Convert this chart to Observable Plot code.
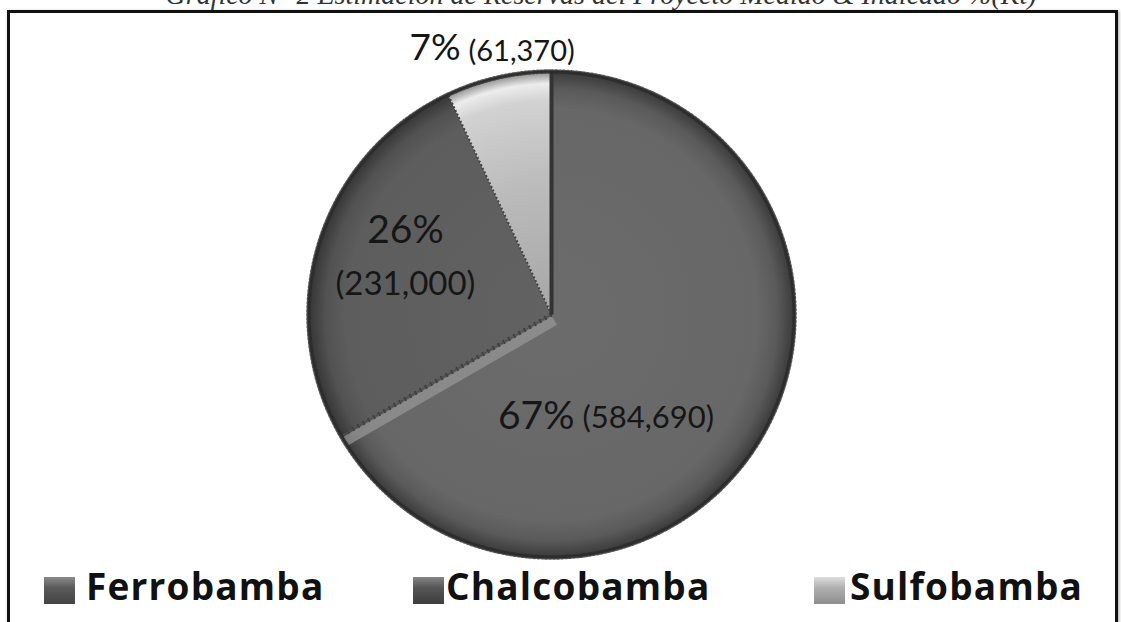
<!DOCTYPE html>
<html>
<head>
<meta charset="utf-8">
<script src="https://cdn.jsdelivr.net/npm/d3@7"></script>
<script src="https://cdn.jsdelivr.net/npm/@observablehq/plot@0.6"></script>
<style>
  html, body { margin: 0; padding: 0; background: #fff; }
  #wrap { position: relative; width: 1121px; height: 622px; overflow: hidden; background: #fff; }
  #frame { position: absolute; left: 7px; top: 10px; width: 1105px; height: 700px; border: 3px solid #111; box-shadow: 1px 1px 3px rgba(0,0,0,0.35); }
  #title { position: absolute; left: 601px; top: -19px; transform: translateX(-50%); white-space: nowrap;
           font-family: "Liberation Serif", "Times New Roman", serif; font-style: italic; font-size: 28px; line-height: 1; color: #333; }
  #chart { position: absolute; left: 0; top: 0; }
  .sw { position: absolute; width: 31px; height: 27px; top: 577px; }
  .lt { position: absolute; top: 567px; font-family: "Open Sans", sans-serif; font-weight: 700; font-size: 37px; line-height: 1; letter-spacing: 1.2px; color: #111; white-space: nowrap; }
</style>
</head>
<body>
<div id="wrap">
  <div id="frame"></div>
  <div id="title">Gráfico N° 2 Estimación de Reservas del Proyecto Medido &amp; Indicado %(Kt)</div>
  <div id="chart"></div>
</div>
<script>
// ---- data ----
const categories = ["Ferrobamba", "Chalcobamba", "Sulfobamba"];
const values = [584690, 231000, 61370];
const total = d3.sum(values);
const percentLabels = values.map(v => Math.round(v / total * 100) + "%");
const valueLabels = values.map(v => "(" + d3.format(",")(v) + ")");

// ---- styling / layout (not data) ----
const legendSwatch = [
  "linear-gradient(to bottom, #8a8a8a 0%, #5a5a5a 40%, #444 100%)",
  "linear-gradient(to bottom, #858585 0%, #555 40%, #3e3e3e 100%)",
  "linear-gradient(to bottom, #dedede 0%, #b0b0b0 40%, #8e8e8e 100%)"
];
const legendSwatchLeft = [44, 413, 814];
const legendTextLeft = [86, 446, 850];
// label placement: radius (in pie radii), angle shift from slice middle (deg), font sizes, arrangement
const labelLayout = [
  {r: 0.482, shift: 46.7, pctSize: 39, valSize: 31, mode: "inline"},
  {r: 0.63, shift: 0, pctSize: 39, valSize: 33, mode: "stack"},
  {r: 1.105, shift: -6.3, pctSize: 37, valSize: 29, mode: "inline"}
];

// ---- geometry from values ----
const rad = a => a * Math.PI / 180;
const polar = (r, deg) => ({x: r * Math.sin(rad(deg)), y: r * Math.cos(rad(deg))});
let acc = 0;
const slices = categories.map((c, i) => {
  const a0 = acc / total * 360;
  acc += values[i];
  const a1 = acc / total * 360;
  return {cat: c, i, a0, a1, mid: (a0 + a1) / 2};
});
function arcPoints(s) {
  const pts = [{x: 0, y: 0}];
  const n = Math.max(2, Math.ceil((s.a1 - s.a0) / 0.5));
  for (let k = 0; k <= n; k++) pts.push(polar(1, s.a0 + (s.a1 - s.a0) * k / n));
  pts.push({x: 0, y: 0});
  return pts;
}
const rim = d3.range(0, 721).map(k => polar(1, k / 2));

const sliceMarks = slices.map(s =>
  Plot.line(arcPoints(s), {x: "x", y: "y", fill: `url(#grad${s.i})`, stroke: "none", curve: "linear"})
);

const edge = (a, opts) => {
  const p = polar(1, a);
  return Plot.link([{x1: 0, y1: 0, x2: p.x, y2: p.y}], {x1: "x1", y1: "y1", x2: "x2", y2: "y2", ...opts});
};

const textMarks = [];
slices.forEach(s => {
  const L = labelLayout[s.i];
  const p = polar(L.r, s.mid + L.shift);
  const common = {x: "x", y: "y", fontFamily: "Lato, 'Open Sans', sans-serif", fill: "#161616"};
  if (L.mode === "inline") {
    textMarks.push(Plot.text([{...p, t: percentLabels[s.i]}], {...common, text: "t", fontSize: L.pctSize, textAnchor: "end", dx: -4, dy: -Math.round(0.32 * L.pctSize)}));
    textMarks.push(Plot.text([{...p, t: valueLabels[s.i]}], {...common, text: "t", fontSize: L.valSize, textAnchor: "start", dx: 4, dy: -Math.round(0.32 * L.valSize)}));
  } else {
    textMarks.push(Plot.text([{...p, t: percentLabels[s.i]}], {...common, text: "t", fontSize: L.pctSize, textAnchor: "middle", dy: -26 - Math.round(0.32 * L.pctSize)}));
    textMarks.push(Plot.text([{...p, t: valueLabels[s.i]}], {...common, text: "t", fontSize: L.valSize, textAnchor: "middle", dy: 27 - Math.round(0.32 * L.valSize)}));
  }
});

const chart = Plot.plot({
  width: 1121,
  height: 622,
  marginLeft: 308, marginRight: 327, marginTop: 71, marginBottom: 65,
  x: {domain: [-1, 1], axis: null},
  y: {domain: [-1, 1], axis: null},
  style: {background: "transparent", overflow: "visible"},
  marks: [
    ...sliceMarks,
    // Chalcobamba / Ferrobamba boundary: light bevel band + serrated edge
    edge(slices[0].a1, {stroke: "#999", strokeWidth: 10, strokeOpacity: 0.7, dx: 3, dy: 6}),
    edge(slices[0].a1, {stroke: "#3a3a3a", strokeWidth: 4, strokeDasharray: "2,4"}),
    edge(slices[0].a1, {stroke: "#4a4a4a", strokeWidth: 1.2}),
    // Sulfobamba / Chalcobamba boundary: dotted
    edge(slices[1].a1, {stroke: "#444", strokeWidth: 2, strokeDasharray: "2,2"}),
    // Ferrobamba / Sulfobamba boundary: dark line
    edge(0, {stroke: "#333", strokeWidth: 4}),
    // rim
    Plot.line(rim, {x: "x", y: "y", stroke: "#3a3a3a", strokeWidth: 2}),
    Plot.line(rim, {x: "x", y: "y", stroke: "#2a2a2a", strokeWidth: 4.5, strokeDasharray: "1.5,2.5", strokeOpacity: 0.8}),
    ...textMarks
  ]
});

// gradients in user space, centred on the pie through Plot's scales
const sx = chart.scale("x"), sy = chart.scale("y");
const cx = sx.apply(0), cy = sy.apply(0), R = sx.apply(1) - sx.apply(0);
const defs = d3.select(chart).insert("defs", ":first-child");
const stopsFor = [
  [[0, "#6c6c6c"], [0.85, "#676767"], [0.93, "#5a5a5a"], [1, "#3a3a3a"]],
  [[0, "#626262"], [0.85, "#5d5d5d"], [0.93, "#525252"], [1, "#353535"]],
  [[0, "#a6a6a6"], [0.55, "#bcbcbc"], [0.88, "#d2d2d2"], [0.95, "#ececec"], [1, "#8a8a8a"]]
];
stopsFor.forEach((stops, i) => {
  const g = defs.append("radialGradient").attr("id", "grad" + i)
    .attr("gradientUnits", "userSpaceOnUse").attr("cx", cx).attr("cy", cy).attr("r", R);
  stops.forEach(([o, c]) => g.append("stop").attr("offset", o).attr("stop-color", c));
});

document.getElementById("chart").appendChild(chart);

// legend
const wrap = document.getElementById("wrap");
categories.forEach((c, i) => {
  const sw = document.createElement("div");
  sw.className = "sw";
  sw.style.left = legendSwatchLeft[i] + "px";
  sw.style.background = legendSwatch[i];
  wrap.appendChild(sw);
  const t = document.createElement("div");
  t.className = "lt";
  t.style.left = legendTextLeft[i] + "px";
  t.textContent = c;
  wrap.appendChild(t);
});
</script>
</body>
</html>
